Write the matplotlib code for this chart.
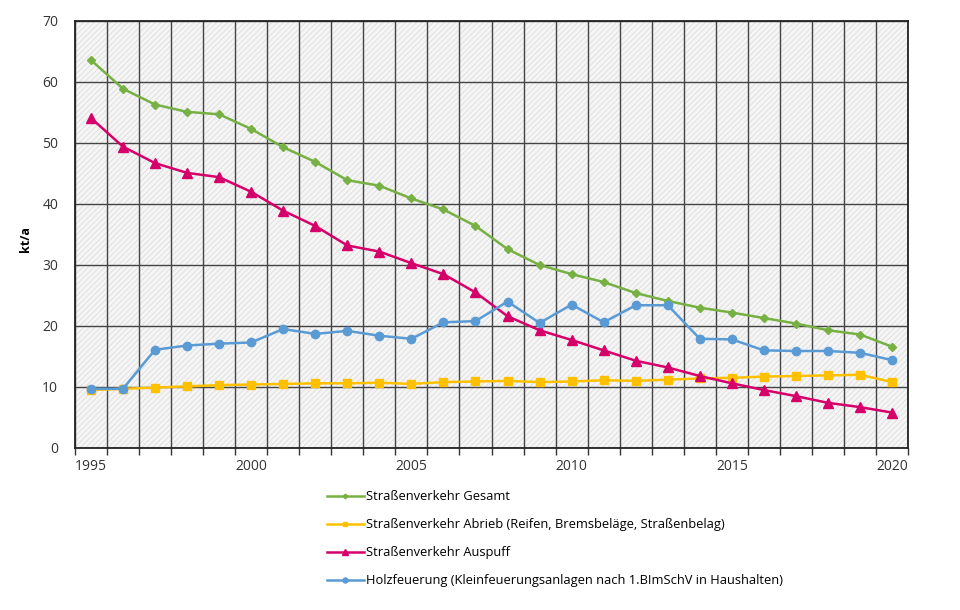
import matplotlib
matplotlib.use('Agg')
import matplotlib.pyplot as plt
from matplotlib.ticker import MultipleLocator, FixedLocator

years = list(range(1995, 2021))

gesamt = [63.6, 58.9, 56.3, 55.1, 54.7, 52.3, 49.3, 46.9, 43.9, 43.0, 40.9, 39.1, 36.4,
          32.6, 30.0, 28.5, 27.2, 25.4, 24.1, 23.0, 22.2, 21.3, 20.4, 19.3, 18.6, 16.6]
abrieb = [9.5, 9.7, 9.9, 10.1, 10.3, 10.4, 10.5, 10.6, 10.6, 10.7, 10.5, 10.8, 10.9,
          11.0, 10.8, 10.9, 11.1, 11.0, 11.2, 11.4, 11.5, 11.7, 11.8, 11.9, 12.0, 10.8]
auspuff = [54.1, 49.4, 46.7, 45.1, 44.4, 42.0, 38.9, 36.4, 33.2, 32.2, 30.3, 28.5, 25.5,
           21.6, 19.3, 17.7, 16.0, 14.3, 13.2, 11.8, 10.6, 9.5, 8.5, 7.4, 6.7, 5.8]
holz = [9.7, 9.7, 16.1, 16.8, 17.1, 17.3, 19.5, 18.7, 19.2, 18.4, 17.9, 20.6, 20.8,
        24.0, 20.5, 23.5, 20.6, 23.4, 23.4, 17.9, 17.8, 16.0, 15.9, 15.9, 15.6, 14.4]

labels = ['Straßenverkehr Gesamt',
          'Straßenverkehr Abrieb (Reifen, Bremsbeläge, Straßenbelag)',
          'Straßenverkehr Auspuff',
          'Holzfeuerung (Kleinfeuerungsanlagen nach 1.BImSchV in Haushalten)']

plt.rcParams['font.family'] = ['Open Sans', 'DejaVu Sans']
plt.rcParams['hatch.linewidth'] = 0.5

fig = plt.figure(figsize=(9.6, 6.1), dpi=100)
ax = fig.add_axes([0.078, 0.2656, 0.868, 0.7])

ax.set_facecolor('#f5f5f5')
ax.patch.set_hatch('//////')
ax.patch.set_edgecolor('#d9d9d9')

ax.plot(years, gesamt, color='#77b043', lw=1.8, marker='D', ms=4, label=labels[0], zorder=3)
ax.plot(years, abrieb, color='#ffc000', lw=1.8, marker='s', ms=6, label=labels[1], zorder=3)
ax.plot(years, auspuff, color='#d6006b', lw=1.8, marker='^', ms=7, label=labels[2], zorder=3)
ax.plot(years, holz, color='#5b9bd5', lw=1.8, marker='o', ms=6, label=labels[3], zorder=3)

ax.set_xlim(1994.5, 2020.5)
ax.set_ylim(0, 70)
ax.yaxis.set_major_locator(MultipleLocator(10))
ax.xaxis.set_major_locator(FixedLocator([1995, 2000, 2005, 2010, 2015, 2020]))
ax.xaxis.set_minor_locator(FixedLocator([y + 0.5 for y in range(1994, 2021)]))
ax.tick_params(axis='x', which='major', length=0, pad=8, labelsize=10, labelcolor='#333333')
ax.tick_params(axis='x', which='minor', length=5, width=1, color='#333333', direction='out')
ax.tick_params(axis='y', length=0, pad=12, labelsize=10, labelcolor='#333333')

ax.grid(True, axis='x', which='minor', color='#444444', lw=1, zorder=1)
ax.grid(True, axis='y', which='major', color='#444444', lw=1, zorder=1)
ax.set_axisbelow(True)
for s in ax.spines.values():
    s.set_color('#222222')
    s.set_linewidth(1.3)

ax.set_ylabel('kt/a', fontsize=9, fontweight='bold')
ax.yaxis.set_label_coords(-0.052, 0.49)

fig.legend(loc='upper left', bbox_to_anchor=(0.328, 0.215), frameon=False,
           fontsize=9.3, handlelength=2.9, handletextpad=0.15, labelspacing=1.15,
           markerscale=0.6)

fig.savefig('out.png', dpi=100)
